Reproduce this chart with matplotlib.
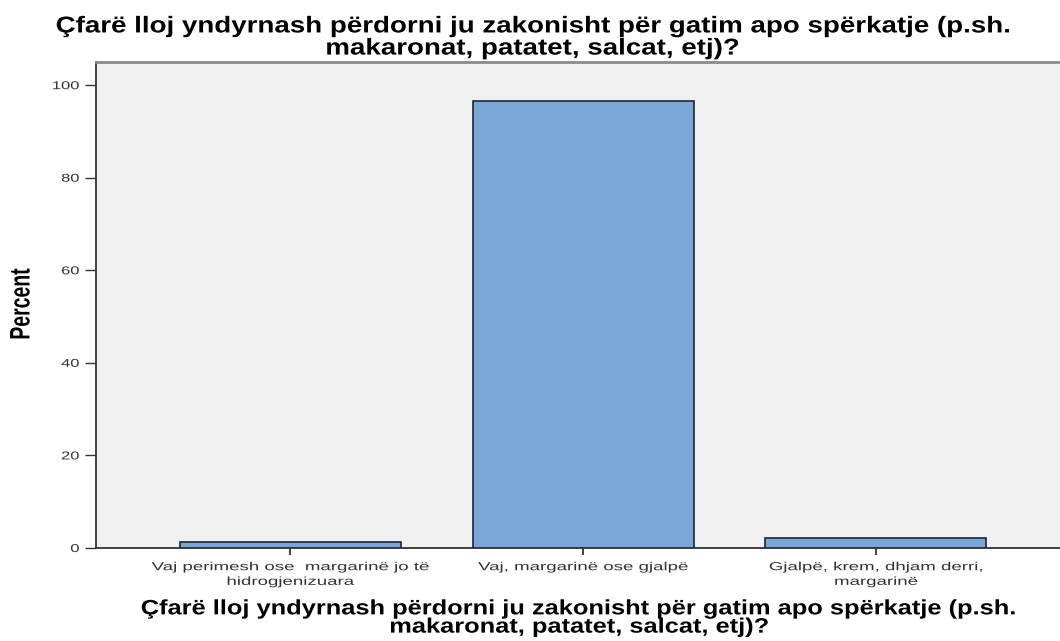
import matplotlib
matplotlib.use("Agg")
import matplotlib.pyplot as plt
from matplotlib.patheffects import AbstractPathEffect
from matplotlib.transforms import Affine2D

# Të dhënat (përqindje)
kategorite = ["Vaj perimesh ose  margarinë jo të\nhidrogjenizuara",
              "Vaj, margarinë ose gjalpë",
              "Gjalpë, krem, dhjam derri,\nmargarinë"]
perqindjet = [1.3, 96.5, 2.2]
yticks = [0, 20, 40, 60, 80, 100]
titulli = ("Çfarë lloj yndyrnash përdorni ju zakonisht për gatim apo spërkatje (p.sh.\n"
           "makaronat, patatet, salcat, etj)?")


class Stretch(AbstractPathEffect):
    # zgjeron tekstin horizontalisht (si në figurën origjinale SPSS)
    def __init__(self, sx=1.0, sy=1.0, anchor="center"):
        super().__init__()
        self.sx, self.sy, self.anchor = sx, sy, anchor

    def draw_path(self, renderer, gc, tpath, affine, rgbFace=None):
        v = tpath.vertices
        if len(v):
            if self.anchor == "right":
                cx = v[:, 0].max()
            elif self.anchor == "left":
                cx = v[:, 0].min()
            else:
                cx = (v[:, 0].min() + v[:, 0].max()) / 2
            cy = (v[:, 1].min() + v[:, 1].max()) / 2
        else:
            cx = cy = 0
        t = Affine2D().translate(-cx, -cy).scale(self.sx, self.sy).translate(cx, cy)
        renderer.draw_path(gc, tpath, t + affine, rgbFace)


plt.rcParams['font.family'] = ['Liberation Sans', 'DejaVu Sans']

fig = plt.figure(figsize=(10.6, 6.41), dpi=100)
ax = fig.add_axes([96 / 1060, 1 - 548 / 641, 1 - 96 / 1060, (548 - 62) / 641])
ax.set_facecolor("#f0f0f0")

x = range(len(kategorite))
ax.bar(x, perqindjet, width=0.755, color="#7aa7d5", edgecolor="#1c2633",
       linewidth=1.2, zorder=3)

ax.set_xlim(-0.664, 2.629)
ax.set_ylim(0, 105)
ax.set_yticks(yticks)
ax.set_xticks(list(x))
ax.set_xticklabels(kategorite, fontsize=8.4, color="#333333", linespacing=1.3)
ax.tick_params(axis="y", length=8, width=1.0, color="#333333", pad=4,
               labelsize=8.2, labelcolor="#333333")
ax.tick_params(axis="x", length=5, width=1.2, color="#222222", pad=4.5)

for lbl in ax.get_xticklabels():
    lbl.set_path_effects([Stretch(1.6)])
for lbl in ax.get_yticklabels():
    lbl.set_path_effects([Stretch(1.45, anchor="right")])

ax.spines["right"].set_visible(False)
ax.spines["top"].set_color("#8a8a8a")
ax.spines["top"].set_linewidth(2.0)
ax.spines["left"].set_color("#333333")
ax.spines["left"].set_linewidth(1.3)
ax.spines["bottom"].set_color("#333333")
ax.spines["bottom"].set_linewidth(1.3)

fig.text(532 / 1060, 1 - 37 / 641, titulli, ha="center", va="center",
         fontsize=16.5, fontweight="bold", linespacing=0.95,
         path_effects=[Stretch(1.21)])
fig.text(580 / 1060, 1 - 618 / 641, titulli, ha="center", va="center",
         fontsize=15, fontweight="bold", linespacing=0.95,
         path_effects=[Stretch(1.22)])
fig.text(22 / 1060, 1 - 304 / 641, "Percent", rotation=90, ha="center",
         va="center", fontsize=14, fontweight="bold",
         path_effects=[Stretch(1.0, 1.45)])

fig.savefig("out.png", dpi=100)
